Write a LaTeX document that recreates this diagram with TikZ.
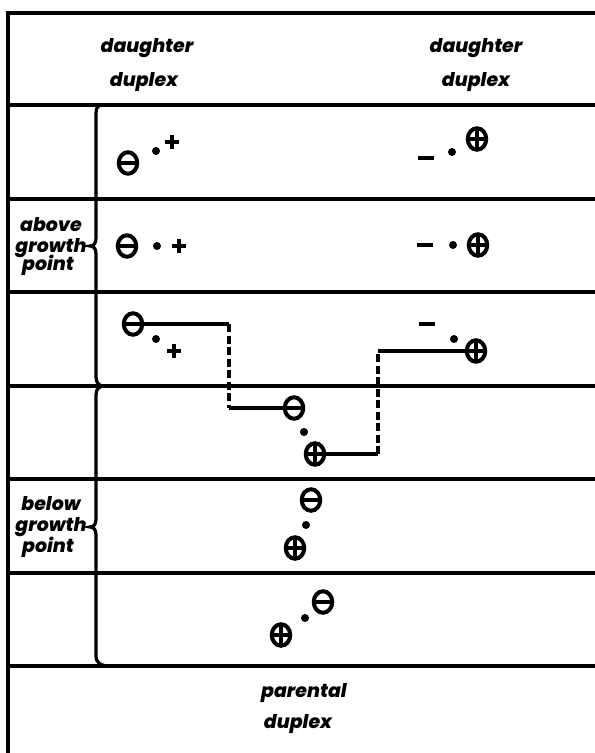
\documentclass[tikz,border=0pt]{standalone}
\usepackage{fontspec}
\setmainfont{Poppins}
\newfontfamily\lblfont{Poppins}[BoldItalicFont={Poppins ExtraBold Italic}]
\usetikzlibrary{shapes.geometric}
\begin{document}
\begin{tikzpicture}[x=1bp,y=-1bp,
  frame/.style={line width=4bp, line cap=rect},
  bracepath/.style={line width=3.2bp},
  word/.style={anchor=base, inner sep=0pt, font=\lblfont\fontsize{19}{21}\selectfont\bfseries\itshape},
  ring/.style={ellipse, draw, line width=4bp, minimum width=18.5bp, minimum height=21.5bp, inner sep=0pt},
  negring/.style={ring, path picture={\draw[line width=4bp] (path picture bounding box.west) -- (path picture bounding box.east);}},
  posring/.style={ring, path picture={\draw[line width=3.8bp] (path picture bounding box.west) -- (path picture bounding box.east) (path picture bounding box.north) -- (path picture bounding box.south);}},
  pt/.style={circle, fill, minimum size=8bp, inner sep=0pt},
  plussign/.style={minimum size=14bp, inner sep=0pt, path picture={\draw[line width=4.5bp] (path picture bounding box.west) -- (path picture bounding box.east) (path picture bounding box.north) -- (path picture bounding box.south);}},
  minussign/.style={fill, minimum width=16bp, minimum height=4.5bp, inner sep=0pt},
  link/.style={line width=3.6bp},
  gaplink/.style={link, dash pattern=on 8bp off 3.5bp}
]
\useasboundingbox (0,0) rectangle (595,753);

% outer frame and row rules
\draw[frame] (8,753) -- (8,13) -- (595,13);
\foreach \yy in {105,199,292,386,479,573,666}
  \draw[frame] (8,\yy) -- (595,\yy);

% braces
\draw[bracepath] (104,105) .. controls (98,105) and (96,107) .. (96,113)
  -- (96,238) .. controls (96,243) and (94,246) .. (90,246)
  .. controls (94,246) and (96,249) .. (96,254)
  -- (96,377) .. controls (96,383) and (99,386) .. (104,386);
\draw[bracepath] (104,386) .. controls (99,386) and (96,389) .. (96,395)
  -- (96,519) .. controls (96,524) and (94,527) .. (90,527)
  .. controls (94,527) and (96,530) .. (96,535)
  -- (96,656) .. controls (96,663) and (101,666) .. (110,666);

% header and footer labels
\node[word] (dL1) at (147,53) {daughter};
\node[word] (dL2) at (144,86) {duplex};
\node[word] (dR1) at (476,53) {daughter};
\node[word] (dR2) at (476,86) {duplex};
\node[word] (pa1) at (304,697) {parental};
\node[word] (pa2) at (298,728) {duplex};

% side labels
\node[word] (ag1) at (51,231) {above};
\node[word] (ag2) at (51,252) {growth};
\node[word] (ag3) at (48,270) {point};
\node[word] (bg1) at (51,510) {below};
\node[word] (bg2) at (51,531) {growth};
\node[word] (bg3) at (48,552) {point};

% row 1
\node[negring] (a1) at (128,163) {};
\node[pt] (a2) at (156,151) {};
\node[plussign] (a3) at (172,142) {};
\node[minussign] (a4) at (426,158) {};
\node[pt] (a5) at (452,152) {};
\node[posring] (a6) at (477,139) {};

% row 2
\node[negring] (b1) at (127,246) {};
\node[pt] (b2) at (157,246) {};
\node[plussign] (b3) at (179,246) {};
\node[minussign] (b4) at (425,245) {};
\node[pt] (b5) at (453,245) {};
\node[posring] (b6) at (478,245) {};

% row 3
\node[negring] (c1) at (133,324) {};
\node[pt] (c2) at (156,339) {};
\node[plussign] (c3) at (174,351) {};
\node[minussign] (c4) at (427,324) {};
\node[pt] (c5) at (454,339) {};
\node[posring] (c6) at (476,351) {};

% row 4
\node[negring] (d1) at (294,408) {};
\node[pt] (d2) at (304,432) {};
\node[posring] (d3) at (315,454) {};

% row 5
\node[negring] (e1) at (311,500) {};
\node[pt] (e2) at (306,525) {};
\node[posring] (e3) at (295,548) {};

% row 6
\node[negring] (f1) at (323,602) {};
\node[pt] (f2) at (305,618) {};
\node[posring] (f3) at (281,635) {};

% connecting strands
\coordinate (k1) at (229,324);
\coordinate (k2) at (229,408);
\coordinate (k3) at (378,454);
\coordinate (k4) at (378,351);
\draw[link] (c1) -- (k1);
\draw[gaplink] (k1) -- (k2);
\draw[link] (k2) -- (d1);
\draw[link] (d3) -- (k3);
\draw[gaplink] (k3) -- (k4);
\draw[link] (k4) -- (c6);
\end{tikzpicture}
\end{document}
